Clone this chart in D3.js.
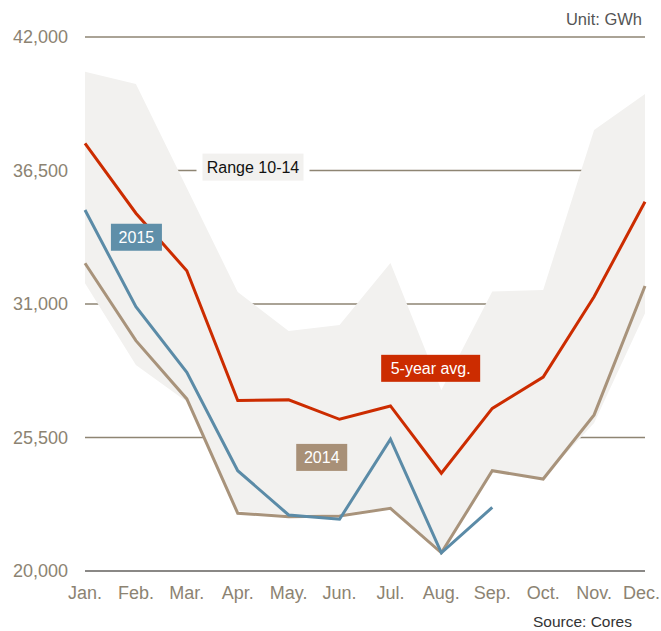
<!DOCTYPE html>
<html>
<head>
<meta charset="utf-8">
<script src="https://cdn.jsdelivr.net/npm/d3@7"></script>
<style>
  html, body { margin: 0; padding: 0; background: #ffffff; }
  svg { display: block; }
  text { font-family: "Liberation Sans", Arial, Helvetica, sans-serif; }
</style>
</head>
<body>
<svg id="chart" width="661" height="631"></svg>
<script>
// ---- data ----
const months = ["Jan.", "Feb.", "Mar.", "Apr.", "May.", "Jun.", "Jul.", "Aug.", "Sep.", "Oct.", "Nov.", "Dec."];
const rangeHigh = [40570, 40060, 35780, 31490, 29890, 30130, 32690, 27460, 31510, 31580, 38170, 39650];
const rangeLow  = [31850, 28490, 26970, 22470, 22310, 22350, 22640, 20750, 24160, 23830, 26100, 30620];
const avg5      = [37620, 34740, 32370, 27020, 27050, 26250, 26800, 24030, 26700, 27990, 31300, 35210];
const y2015     = [34870, 30890, 28190, 24130, 22310, 22130, 25430, 20750, 22620];
const y2014     = [32680, 29490, 27090, 22380, 22240, 22270, 22580, 20750, 24130, 23790, 26430, 31740];
const yTicks    = [20000, 25500, 31000, 36500, 42000];
const unitLabel = "Unit: GWh";
const sourceLabel = "Source: Cores";
// annotation labels: [text, month position (fractional index), value]
const labels = [
  { text: "Range 10-14", pos: 3.30, val: 36640, fill: "#f2f1ef", color: "#111111", w: 101, pad: 6 },
  { text: "2015",        pos: 1.01, val: 33750, fill: "#5f8fa9", color: "#ffffff", w: 51,  pad: 0 },
  { text: "5-year avg.", pos: 6.79, val: 28350, fill: "#cc2c00", color: "#ffffff", w: 99,  pad: 0 },
  { text: "2014",        pos: 4.65, val: 24680, fill: "#a89077", color: "#ffffff", w: 51,  pad: 0 }
];

// ---- scales ----
const W = 661;
const svg = d3.select("#chart");
const x = d3.scaleLinear().domain([0, months.length - 1]).range([85, 645]);
const y = d3.scaleLinear().domain([20000, 42000]).range([571, 37]);
const fmt = d3.format(",");

// gridlines
const grid = svg.append("g");
grid.selectAll("line").data(yTicks).join("line")
  .attr("x1", x(0)).attr("x2", x(11))
  .attr("y1", d => y(d)).attr("y2", d => y(d))
  .attr("stroke", d => d === 20000 ? "#8a8886" : "#8e8573")
  .attr("stroke-width", d => d === 20000 ? 2.2 : 1.5);

// range area
const area = d3.area()
  .x((d, i) => x(i))
  .y0((d, i) => y(rangeLow[i]))
  .y1(d => y(d));
svg.append("path").datum(rangeHigh)
  .attr("d", area)
  .attr("fill", "#f2f1ef");

// redraw baseline on top of area
svg.append("line")
  .attr("x1", x(0)).attr("x2", x(11))
  .attr("y1", y(20000)).attr("y2", y(20000))
  .attr("stroke", "#8a8886").attr("stroke-width", 2.2);

// y tick labels
svg.append("g").selectAll("text").data(yTicks).join("text")
  .attr("x", 68).attr("y", d => y(d)).attr("dy", "0.36em")
  .attr("text-anchor", "end")
  .attr("font-size", 18)
  .attr("fill", "#8c8372")
  .text(d => fmt(d));

// x labels (kept inside the frame)
svg.append("g").selectAll("text").data(months).join("text")
  .attr("x", (d, i) => x(i)).attr("y", 599)
  .attr("text-anchor", "middle")
  .attr("font-size", 18)
  .attr("fill", "#8c8372")
  .text(d => d)
  .each(function(d, i) {
    const bb = this.getBBox();
    if (bb.x + bb.width > W - 1) d3.select(this).attr("x", x(i) - (bb.x + bb.width - (W - 1)));
  });

// lines
const line = d3.line().x((d, i) => x(i)).y(d => y(d));
const series = [
  { data: y2014, color: "#a8937b" },
  { data: y2015, color: "#5b8ba7" },
  { data: avg5,  color: "#cc2c00" }
];
svg.append("g").selectAll("path").data(series).join("path")
  .attr("d", d => line(d.data))
  .attr("fill", "none")
  .attr("stroke", d => d.color)
  .attr("stroke-width", 3)
  .attr("stroke-linejoin", "miter");

// annotation labels
const lg = svg.append("g").selectAll("g").data(labels).join("g")
  .attr("transform", d => `translate(${x(d.pos)},${y(d.val)})`);
lg.filter(d => d.pad > 0).append("rect")
  .attr("x", d => -d.w / 2 - d.pad).attr("y", -14)
  .attr("width", d => d.w + 2 * d.pad).attr("height", 28)
  .attr("fill", "#ffffff");
lg.append("rect")
  .attr("x", d => -d.w / 2).attr("y", -13.5)
  .attr("width", d => d.w).attr("height", 27)
  .attr("fill", d => d.fill);
lg.append("text")
  .attr("text-anchor", "middle").attr("dy", "0.36em")
  .attr("font-size", 16)
  .attr("fill", d => d.color)
  .text(d => d.text);

// unit & source
svg.append("text").attr("x", 642).attr("y", 25)
  .attr("text-anchor", "end").attr("font-size", 16.5).attr("fill", "#555555")
  .text(unitLabel);
svg.append("text").attr("x", 632).attr("y", 627)
  .attr("text-anchor", "end").attr("font-size", 15.5).attr("fill", "#333333")
  .text(sourceLabel);
</script>
</body>
</html>
